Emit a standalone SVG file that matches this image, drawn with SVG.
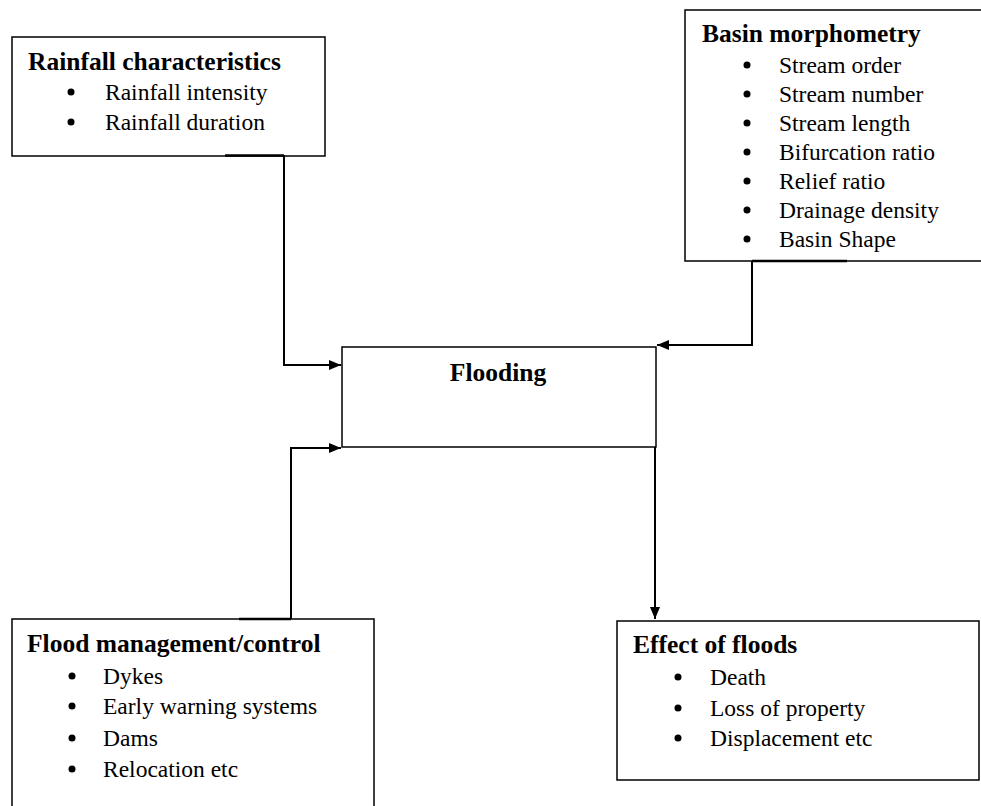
<svg xmlns="http://www.w3.org/2000/svg" width="981" height="806" viewBox="0 0 981 806">
<style>
.box{fill:#fff;stroke:#000;stroke-width:1.5}
.t{font-family:"Liberation Serif","Times New Roman",serif;font-weight:bold;font-size:25.5px;fill:#000}
.i{font-family:"Liberation Serif","Times New Roman",serif;font-size:23.5px;fill:#000}
.b{fill:#000}
.c{fill:none;stroke:#000;stroke-width:2}
.s{fill:none;stroke:#000;stroke-width:2.5}
</style>
<defs>
<marker id="ah" viewBox="0 0 12 10" refX="12" refY="5" markerWidth="12" markerHeight="10" markerUnits="userSpaceOnUse" orient="auto">
<path d="M0,0 L12,5 L0,10 Z" fill="#000"/>
</marker>
</defs>
<rect x="-2" y="-2" width="985" height="810" fill="#fff"/>
<g id="rainfall">
<rect class="box" x="12" y="37" width="313" height="119"/>
<text class="t" x="28" y="70">Rainfall characteristics</text>
<circle class="b" cx="71" cy="92" r="3.5"/>
<text class="i" x="105" y="100">Rainfall intensity</text>
<circle class="b" cx="71" cy="122" r="3.5"/>
<text class="i" x="105" y="130">Rainfall duration</text>
</g>
<g id="basin">
<rect class="box" x="685" y="10" width="310" height="251"/>
<text class="t" x="702" y="42">Basin morphometry</text>
<circle class="b" cx="747" cy="65" r="3.5"/>
<text class="i" x="779" y="73">Stream order</text>
<circle class="b" cx="747" cy="94" r="3.5"/>
<text class="i" x="779" y="102">Stream number</text>
<circle class="b" cx="747" cy="123" r="3.5"/>
<text class="i" x="779" y="131">Stream length</text>
<circle class="b" cx="747" cy="152" r="3.5"/>
<text class="i" x="779" y="160">Bifurcation ratio</text>
<circle class="b" cx="747" cy="181" r="3.5"/>
<text class="i" x="779" y="189">Relief ratio</text>
<circle class="b" cx="747" cy="210" r="3.5"/>
<text class="i" x="779" y="218">Drainage density</text>
<circle class="b" cx="747" cy="239" r="3.5"/>
<text class="i" x="779" y="247">Basin Shape</text>
</g>
<g id="flooding">
<rect class="box" x="342" y="347" width="314" height="100"/>
<text class="t" x="498" y="381" text-anchor="middle">Flooding</text>
</g>
<g id="management">
<rect class="box" x="12" y="619" width="362" height="200"/>
<text class="t" x="27" y="652">Flood management/control</text>
<circle class="b" cx="72" cy="676" r="3.5"/>
<text class="i" x="103" y="684">Dykes</text>
<circle class="b" cx="72" cy="706" r="3.5"/>
<text class="i" x="103" y="714">Early warning systems</text>
<circle class="b" cx="72" cy="738" r="3.5"/>
<text class="i" x="103" y="746">Dams</text>
<circle class="b" cx="72" cy="769" r="3.5"/>
<text class="i" x="103" y="777">Relocation etc</text>
</g>
<g id="effect">
<rect class="box" x="617" y="621" width="362" height="159"/>
<text class="t" x="633" y="653">Effect of floods</text>
<circle class="b" cx="678" cy="677" r="3.5"/>
<text class="i" x="710" y="685">Death</text>
<circle class="b" cx="678" cy="708" r="3.5"/>
<text class="i" x="710" y="716">Loss of property</text>
<circle class="b" cx="678" cy="738" r="3.5"/>
<text class="i" x="710" y="746">Displacement etc</text>
</g>
<g id="connectors">
<path class="s" d="M225,155.5 H284"/>
<path class="c" d="M284,155 V365 H341" marker-end="url(#ah)"/>
<path class="s" d="M752,261 H847"/>
<path class="c" d="M752,261 V345 H657" marker-end="url(#ah)"/>
<path class="s" d="M239,619 H291"/>
<path class="c" d="M291,619 V448 H341" marker-end="url(#ah)"/>
<path class="c" d="M655,447 V619" marker-end="url(#ah)"/>
</g>
</svg>
